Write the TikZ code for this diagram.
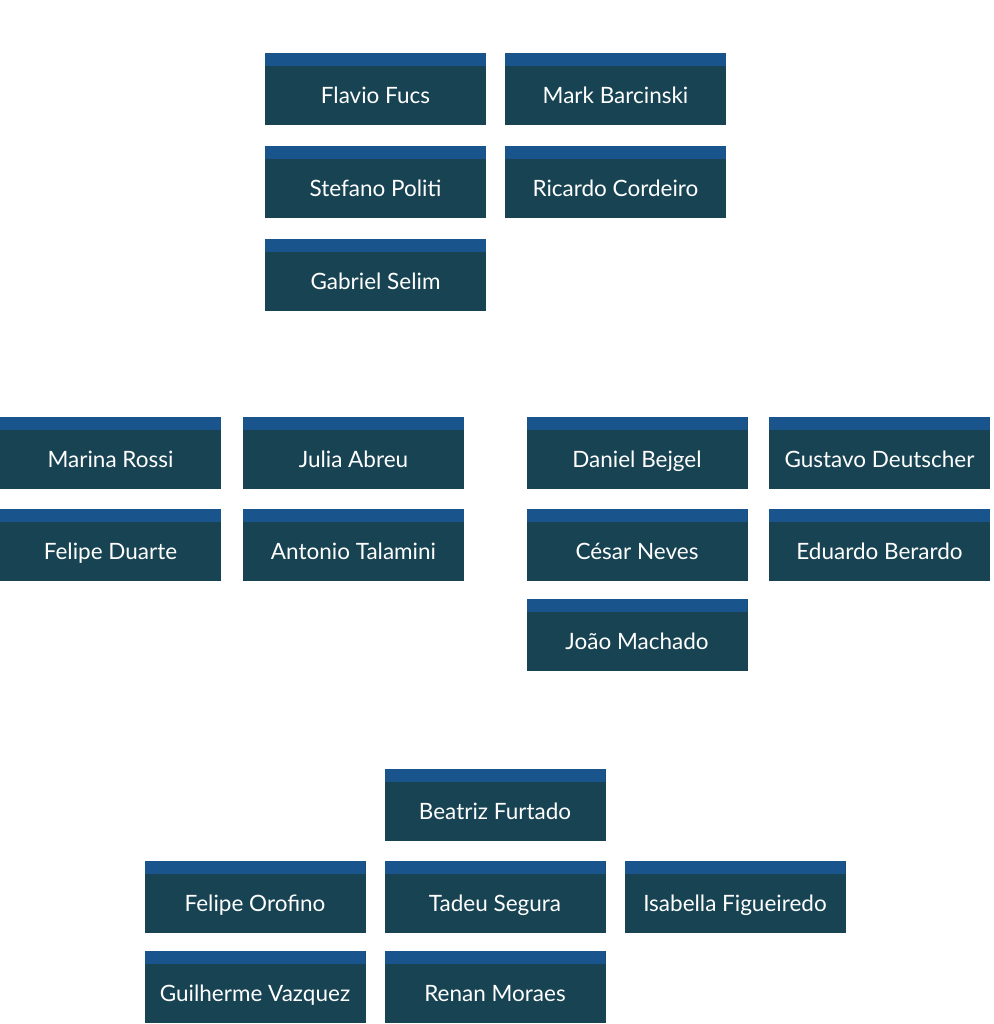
\documentclass[tikz,border=0pt]{standalone}
\usepackage{fontspec}
\setmainfont{Lato}
\definecolor{bandc}{HTML}{1A548C}
\definecolor{bodyc}{HTML}{174352}
\tikzset{
  x=1bp, y=-1bp,
  person/.style={shape=rectangle, fill=bodyc, minimum width=221bp, minimum height=72bp,
    inner sep=0pt, text=white, font=\fontsize{22.5bp}{26bp}\selectfont,
    text height=31bp, text depth=3bp,
    path picture={\fill[bandc] (path picture bounding box.north west) rectangle ([yshift=-13bp]path picture bounding box.north east);}},
  heading/.style={text=white, font=\fontsize{24bp}{28bp}\selectfont\bfseries}
}
\begin{document}
\begin{tikzpicture}
\useasboundingbox[fill=white] (0,0) rectangle (994,1024);
% Portfolio Management
\node[heading] (hpm) at (495,22) {Portfolio Management};
\node[person] (ff) at (375.5,89) {Flavio Fucs};
\node[person] (mb) at (615.5,89) {Mark Barcinski};
\node[person] (sp) at (375.5,182) {Stefano Politi};
\node[person] (rc) at (615.5,182) {Ricardo Cordeiro};
\node[person] (gs) at (375.5,275) {Gabriel Selim};
% Research Macro
\node[heading] (hrma) at (235,389) {Research Macro};
\node[person] (mr) at (110.5,453) {Marina Rossi};
\node[person] (ja) at (353.5,453) {Julia Abreu};
\node[person] (fd) at (110.5,545) {Felipe Duarte};
\node[person] (at) at (353.5,545) {Antonio Talamini};
% Research Micro
\node[heading] (hrmi) at (752,389) {Research Micro};
\node[person] (db) at (637,453) {Daniel Bejgel};
\node[person] (gd) at (879.5,453) {Gustavo Deutscher};
\node[person] (cn) at (637,545) {César Neves};
\node[person] (eb) at (879.5,545) {Eduardo Berardo};
\node[person] (jm) at (637,635) {João Machado};
% Middle & Back Office
\node[heading] (hmb) at (497,737) {Middle \& Back Office};
\node[person] (bf) at (495,805) {Beatriz Furtado};
\node[person] (fo) at (255,897) {Felipe Orofino};
\node[person] (ts) at (495,897) {Tadeu Segura};
\node[person] (if) at (735,897) {Isabella Figueiredo};
\node[person] (gv) at (255,987) {Guilherme Vazquez};
\node[person] (rm) at (495,987) {Renan Moraes};
\end{tikzpicture}
\end{document}
